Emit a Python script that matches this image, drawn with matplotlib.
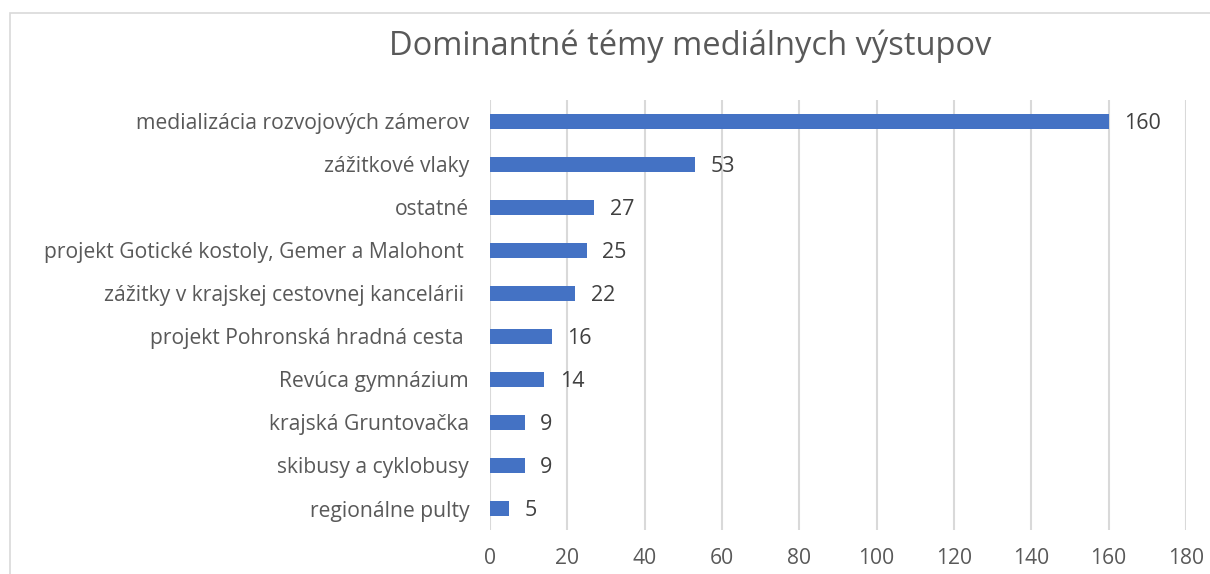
import matplotlib.pyplot as plt
from matplotlib.patches import Rectangle

plt.rcParams['font.family'] = ['Open Sans', 'DejaVu Sans']

categories = ["medializácia rozvojových zámerov", "zážitkové vlaky", "ostatné",
              "projekt Gotické kostoly, Gemer a Malohont ",
              "zážitky v krajskej cestovnej kancelárii ",
              "projekt Pohronská hradná cesta ", "Revúca gymnázium",
              "krajská Gruntovačka", "skibusy a cyklobusy", "regionálne pulty"]
values = [160, 53, 27, 25, 22, 16, 14, 9, 9, 5]
xticks = [0, 20, 40, 60, 80, 100, 120, 140, 160, 180]

fig = plt.figure(figsize=(12.1, 5.74), dpi=100)
ax = fig.add_axes([490/1210, 1-530/574, (1186-490)/1210, 430/574])

fig.patches.append(Rectangle((10/1210, -0.1), 1.2, 1-13/574+0.1, transform=fig.transFigure,
                             fill=False, edgecolor='#d9d9d9', lw=1.2))

pos = list(range(len(categories)))
ax.barh(pos, values, height=0.35, color='#4472C4', zorder=3)
for p, v in zip(pos, values):
    ax.text(v + 4.0, p + 0.05, str(v), va='center', ha='left', fontsize=15.5, color='#404040')

ax.set_xlim(0, 180)
ax.set_ylim(9.5, -0.5)
ax.set_yticks(pos)
ax.set_yticklabels(categories)
ax.set_xticks(xticks)
ax.tick_params(axis='y', length=0, pad=15, labelsize=15.2, labelcolor='#595959')
ax.tick_params(axis='x', length=0, pad=13, labelsize=15.2, labelcolor='#595959')
ax.grid(axis='x', color='#d9d9d9', lw=1.5, zorder=0)
for s in ax.spines.values():
    s.set_visible(False)

fig.text(690/1210, 1-46/574, "Dominantné témy mediálnych výstupov", ha='center', va='center',
         fontsize=23.5, color='#595959')

fig.savefig('out.png', dpi=100)
